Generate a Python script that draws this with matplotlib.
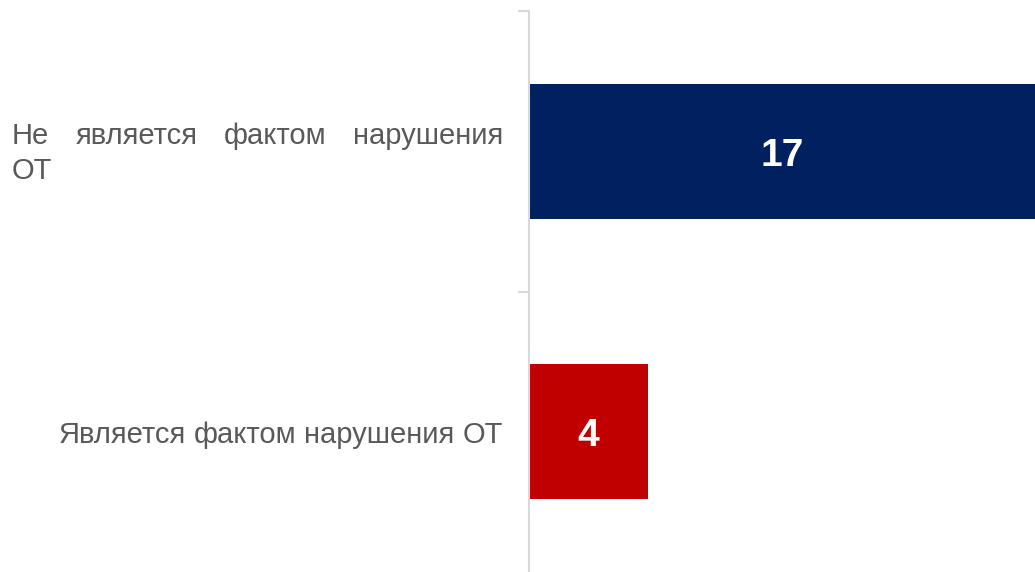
import matplotlib
matplotlib.use("Agg")
import matplotlib.pyplot as plt

categories = ["Не является фактом нарушения ОТ", "Является фактом нарушения ОТ"]
values = [17, 4]
colors = ["#002060", "#C00000"]

plt.rcParams['font.family'] = ['Liberation Sans', 'DejaVu Sans']

fig = plt.figure(figsize=(10.35, 5.72), dpi=100)
ax = fig.add_axes([529 / 1035, 0.0, 1 - 529 / 1035, 1 - 11 / 572])

ypos = list(range(len(categories)))
bars = ax.barh(ypos, values, height=0.48, color=colors)
ax.set_xlim(0, 17)
ax.set_ylim(len(categories) - 0.5, -0.5)

# value labels, baseline set so the digits sit centred in the bar
for b, v in zip(bars, values):
    ax.annotate(str(v), (v / 2, b.get_y() + b.get_height() / 2), xytext=(0, -10.5),
                textcoords='offset points', ha='center', va='baseline',
                color='white', fontsize=28, fontweight='bold')

for s in ['top', 'right', 'bottom']:
    ax.spines[s].set_visible(False)
ax.spines['left'].set_color('#d9d9d9')
ax.spines['left'].set_linewidth(1.5)
ax.set_xticks([])
ax.set_yticks([y - 0.5 for y in ypos])
ax.set_yticklabels([])
ax.tick_params(axis='y', length=8, color='#d9d9d9', width=1.5)

# category labels, justified text block from x=12px to x=503px
fs = 21
txtc = '#595959'
left_px, right_px = 12, 503
fig.canvas.draw()
r = fig.canvas.get_renderer()


def place_line(words, y_px, mode):
    texts = [fig.text(0, 1 - y_px / 572, w, fontsize=fs, color=txtc, va='baseline') for w in words]
    widths = [t.get_window_extent(r).width for t in texts]
    if mode == 'justify' and len(words) > 1:
        gap = (right_px - left_px - sum(widths)) / (len(words) - 1)
        x = left_px
    else:
        gap = fs * 100 / 72 * 0.278
        x = left_px if mode == 'left' else right_px - sum(widths) - gap * (len(words) - 1)
    for t, w in zip(texts, widths):
        t.set_x(x / 1035)
        x += w + gap


place_line(categories[0].rsplit(' ', 1)[0].split(' '), 144, 'justify')
place_line(['ОТ'], 179, 'left')
place_line(categories[1].split(' '), 443, 'right')

fig.savefig('out.png', dpi=100)
